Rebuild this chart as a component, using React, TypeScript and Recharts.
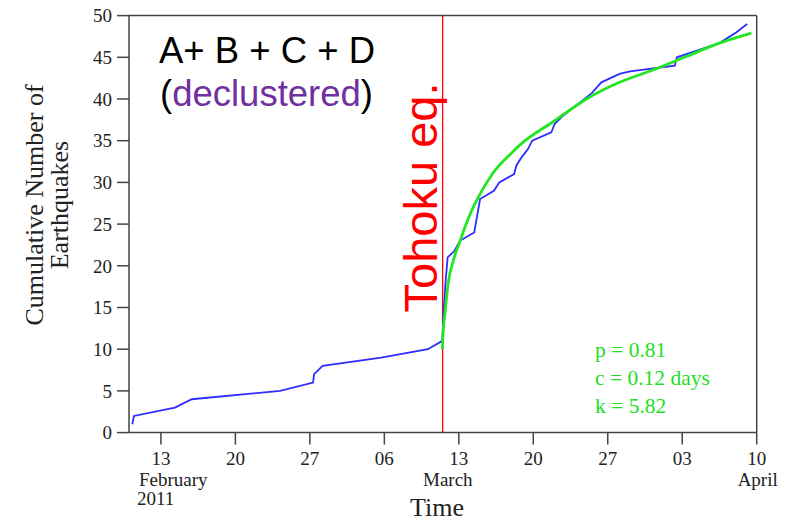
import { LineChart, Line, XAxis, YAxis, ReferenceLine } from "recharts"

// days counted from 10 Feb 2011
const quakeDays = [0.31, 0.47, 4.32, 5.9, 14.2, 17.3, 17.4, 18.2, 23.7, 28.1, 29.45, 29.55, 29.75, 29.95, 30.6, 31.1, 32.45, 33.0, 34.3, 34.8, 36.2, 36.4, 36.9, 37.5, 37.9, 39.7, 40.0, 40.8, 41.8, 43.5, 44.4, 46.1, 47.1, 51.3, 51.5, 55.5, 57.1, 58.1]
const quakeCounts = [1, 2, 3, 4, 5, 6, 7, 8, 9, 10, 11, 14, 18, 21, 21.8, 23, 24, 28, 29, 30, 31, 32, 33, 34, 35, 36, 37, 38, 39, 40.7, 42, 43, 43.3, 44, 45, 46.7, 48, 49]

const fitDays = [29.45, 29.55, 29.7, 30.0, 30.5, 31.1, 31.6, 32.0, 32.7, 34.2, 36.1, 36.75, 39.9, 43.0, 46.1, 49.3, 52.4, 55.5, 58.5]
const fitValues = [10, 12.5, 14.3, 17.9, 20.7, 22.9, 24.7, 26.0, 27.9, 31.1, 33.7, 34.5, 37.3, 40.0, 42.0, 43.5, 45.1, 46.7, 47.9]

const tohokuDay = 29.48

const xTicks = [3, 10, 17, 24, 31, 38, 45, 52, 59]
const xTickLabels = [["13", "February", "2011"], ["20"], ["27"], ["06"], ["13", "March"], ["20"], ["27"], ["03"], ["10", "April"]]
const yTicks = [0, 5, 10, 15, 20, 25, 30, 35, 40, 45, 50]

const fitParams = ["p = 0.81", "c = 0.12 days", "k = 5.82"]

const quakeData = quakeDays.map((day, i) => ({ day, n: quakeCounts[i] }))
const fitData = fitDays.map((day, i) => ({ day, n: fitValues[i] }))

const SERIF = "'Liberation Serif', 'Times New Roman', serif"
const SANS = "'Liberation Sans', Arial, sans-serif"
const AXIS = "#444"

function TimeTick(props: any) {
  const { x, y, payload } = props
  const lines = xTickLabels[xTicks.indexOf(payload.value)] || [String(payload.value)]
  const sub = lines[1]
  let subX = x
  let anchor: "start" | "middle" = "middle"
  if (sub === "February") {
    subX = x - 22
    anchor = "start"
  } else if (sub === "March") subX = x - 11
  else if (sub === "April") subX = x + 1
  return (
    <g fontFamily={SERIF} fontSize={19} fill="#222">
      <text x={x} y={y + 18.5} textAnchor="middle">{lines[0]}</text>
      {sub && <text x={subX} y={y + 39.5} textAnchor={anchor}>{sub}</text>}
      {lines[2] && <text x={x - 24} y={y + 58.5} textAnchor="start">{lines[2]}</text>}
    </g>
  )
}

export default function App() {
  return (
    <div style={{ position: "absolute", left: 0, top: 0, width: 792, height: 523, background: "#fff" }}>
      <LineChart width={792} height={523} margin={{ top: 15.6, right: 0, bottom: 0, left: 0 }}>
        <XAxis
          type="number"
          dataKey="day"
          domain={[0, 59]}
          ticks={xTicks}
          allowDataOverflow
          height={90.4}
          tickSize={12}
          tick={<TimeTick />}
          axisLine={{ stroke: AXIS, strokeWidth: 1.5 }}
          tickLine={{ stroke: AXIS, strokeWidth: 1.5 }}
        />
        <YAxis
          yAxisId="left"
          domain={[0, 50]}
          ticks={yTicks}
          width={129}
          tickSize={12}
          tickMargin={5}
          tick={{ fontFamily: SERIF, fontSize: 19, fill: "#222" }}
          axisLine={{ stroke: AXIS, strokeWidth: 1.5 }}
          tickLine={{ stroke: AXIS, strokeWidth: 1.5 }}
        />
        <YAxis
          yAxisId="right"
          orientation="right"
          domain={[0, 50]}
          ticks={yTicks}
          width={35.3}
          tickSize={12}
          tick={() => <g />}
          axisLine={{ stroke: AXIS, strokeWidth: 1.5 }}
          tickLine={{ stroke: AXIS, strokeWidth: 1.5 }}
        />
        <ReferenceLine yAxisId="left" y={50} stroke={AXIS} strokeWidth={1.5} />
        <ReferenceLine yAxisId="left" x={tohokuDay} stroke="#ff0000" strokeWidth={1.3} />
        <Line
          yAxisId="left"
          data={quakeData}
          dataKey="n"
          type="linear"
          stroke="#2e2eff"
          strokeWidth={1.8}
          dot={false}
          isAnimationActive={false}
        />
        <Line
          yAxisId="left"
          data={fitData}
          dataKey="n"
          type="monotone"
          stroke="#22e622"
          strokeWidth={2.8}
          dot={false}
          isAnimationActive={false}
        />
      </LineChart>
      <svg width={792} height={523} style={{ position: "absolute", left: 0, top: 0, pointerEvents: "none" }}>
        <text x={159} y={62.7} fontFamily={SANS} fontSize={36.5} fill="#000">A+ B + C + D</text>
        <text x={160} y={106} fontFamily={SANS} fontSize={36.5} fill="#000">
          (<tspan fill="#7030a0">declustered</tspan>)
        </text>
        <text
          x={437}
          y={197.5}
          transform="rotate(-90 437 197.5)"
          textAnchor="middle"
          fontFamily={SANS}
          fontSize={47}
          fill="#ff0000"
        >
          Tohoku eq.
        </text>
        <g fontFamily={SERIF} fontSize={21.5} fill="#22dd22">
          {fitParams.map((t, i) => (
            <text key={t} x={595} y={357 + i * 28} >{t}</text>
          ))}
        </g>
        <g fontFamily={SERIF} fontSize={26} fill="#222" textAnchor="middle">
          <text x={43} y={205} transform="rotate(-90 43 205)">Cumulative Number of</text>
          <text x={68} y={205} transform="rotate(-90 68 205)">Earthquakes</text>
        </g>
        <text x={437} y={516} textAnchor="middle" fontFamily={SERIF} fontSize={26} fill="#222">Time</text>
      </svg>
    </div>
  )
}
